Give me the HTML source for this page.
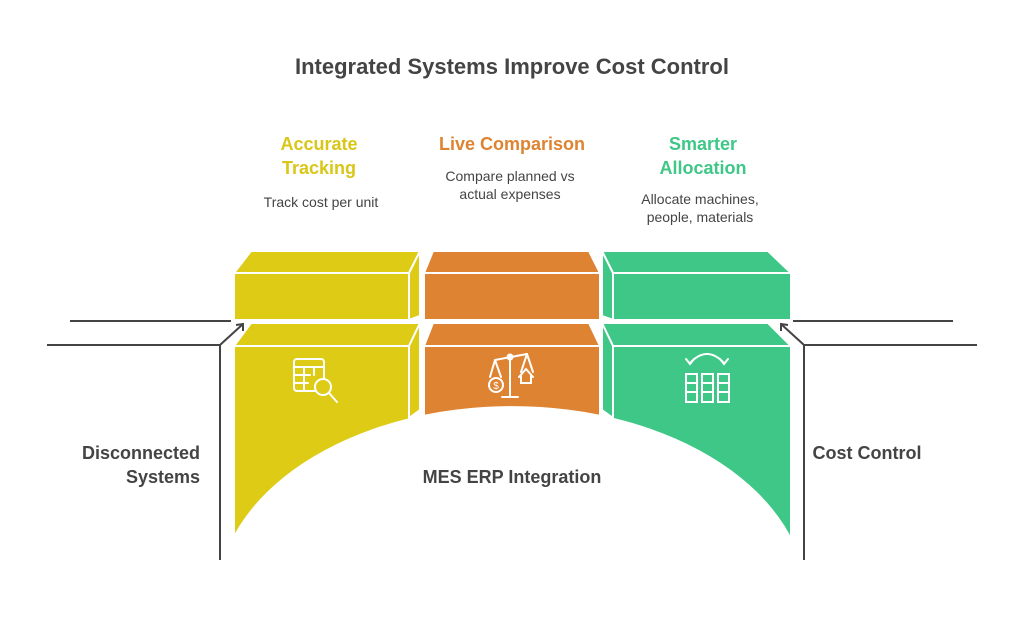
<!DOCTYPE html>
<html><head><meta charset="utf-8"><style>
html,body{margin:0;padding:0;background:#fff;width:1024px;height:631px;overflow:hidden;}
svg{display:block}
text{font-family:"Liberation Sans",sans-serif;}
</style></head><body>
<svg width="1024" height="631" viewBox="0 0 1024 631" xmlns="http://www.w3.org/2000/svg">
<text x="512" y="74" text-anchor="middle" font-size="22" font-weight="bold" fill="#444">Integrated Systems Improve Cost Control</text>
<g font-size="18" font-weight="bold" text-anchor="middle">
<text x="319" y="150" fill="#D9C616">Accurate</text><text x="319" y="174" fill="#D9C616">Tracking</text>
<text x="512" y="150" fill="#DE8331">Live Comparison</text>
<text x="703" y="150" fill="#3EC786">Smarter</text><text x="703" y="174" fill="#3EC786">Allocation</text>
</g>
<g font-size="14" fill="#444" text-anchor="middle">
<text x="321" y="207">Track cost per unit</text>
<text x="510" y="181">Compare planned vs</text><text x="510" y="199">actual expenses</text>
<text x="700" y="204">Allocate machines,</text><text x="700" y="222">people, materials</text>
</g>
<g stroke="#fff" stroke-width="2" stroke-linejoin="round">
<polygon points="251,323 420,323 409,346 234,346" fill="#DDCB16"/>
<rect x="234" y="346" width="175" height="200" fill="#DDCB16"/>
<polygon points="409,346 420,323 420,410 409,418" fill="#DDCB16"/>
<polygon points="433,323 589,323 600,346 424,346" fill="#DE8331"/>
<rect x="424" y="346" width="176" height="80" fill="#DE8331"/>
<polygon points="602,323 768,323 791,346 613,346" fill="#3EC786"/>
<rect x="613" y="346" width="178" height="200" fill="#3EC786"/>
<polygon points="602,323 613,346 613,418 602,410" fill="#3EC786"/>
</g>
<path d="M217,600 A295,194 0 0 1 807,600 Z" fill="#fff"/>
<rect x="200" y="537" width="620" height="40" fill="#fff"/>
<g stroke="#fff" stroke-width="2" stroke-linejoin="round">
<polygon points="251,251 420,251 409,273 234,273" fill="#DDCB16"/>
<rect x="234" y="273" width="175" height="47" fill="#DDCB16"/>
<polygon points="409,273 420,251 420,316 409,320" fill="#DDCB16"/>
<polygon points="433,251 589,251 600,273 424,273" fill="#DE8331"/>
<rect x="424" y="273" width="176" height="47" fill="#DE8331"/>
<polygon points="602,251 768,251 791,273 613,273" fill="#3EC786"/>
<rect x="613" y="273" width="178" height="47" fill="#3EC786"/>
<polygon points="602,251 613,273 613,320 602,316" fill="#3EC786"/>
</g>
<g stroke="#444" stroke-width="2" fill="none">
<line x1="70" y1="321" x2="231" y2="321"/>
<polyline points="47,345 220,345"/>
<polyline points="220,560 220,345 243,324"/>
<polyline points="236,325 243,324 243,331"/>
<line x1="793" y1="321" x2="953" y2="321"/>
<polyline points="977,345 804,345"/>
<polyline points="804,560 804,345 781,324"/>
<polyline points="788,325 781,324 781,331"/>
</g>
<text x="200" y="459" font-size="18" font-weight="bold" fill="#444" text-anchor="end">Disconnected</text>
<text x="200" y="483" font-size="18" font-weight="bold" fill="#444" text-anchor="end">Systems</text>
<text x="867" y="459" font-size="18" font-weight="bold" fill="#444" text-anchor="middle">Cost Control</text>
<text x="512" y="483" font-size="18" font-weight="bold" fill="#444" text-anchor="middle">MES ERP Integration</text>
<g stroke="#fff" stroke-width="2" fill="none" stroke-linecap="round">
<rect x="294" y="359" width="30" height="32" rx="3"/>
<line x1="294" y1="367" x2="324" y2="367"/><line x1="294" y1="375" x2="310" y2="375"/><line x1="294" y1="383" x2="308" y2="383"/>
<line x1="304" y1="367" x2="304" y2="391"/><line x1="314" y1="367" x2="314" y2="375"/>
<circle cx="323" cy="387" r="8" fill="#DDCB16"/><line x1="329" y1="393" x2="337" y2="402"/>
<line x1="510" y1="355" x2="510" y2="396"/><line x1="502" y1="397" x2="518" y2="397"/>
<line x1="495" y1="360" x2="527" y2="354"/><circle cx="510" cy="357" r="2.5"/>
<path d="M495 360 L490 377 M495 360 L501 377"/><circle cx="496" cy="385" r="7"/>
<text x="496" y="389" font-size="10" fill="#fff" stroke="none" text-anchor="middle">$</text>
<path d="M527 354 L521 372 M527 354 L533 372"/><path d="M519 377 L526 369 L533 377 M521 376 V383 H531 V376"/>
<path d="M690 363 Q707 345 724 363"/><path d="M686 359 L690 364 L694 359 M720 359 L724 364 L728 359"/>
<rect x="686" y="374" width="11" height="28"/><rect x="702" y="374" width="11" height="28"/><rect x="718" y="374" width="11" height="28"/>
<path d="M686 383 H697 M686 392 H697 M702 383 H713 M702 392 H713 M718 383 H729 M718 392 H729"/>
</g>
</svg>
</body></html>
